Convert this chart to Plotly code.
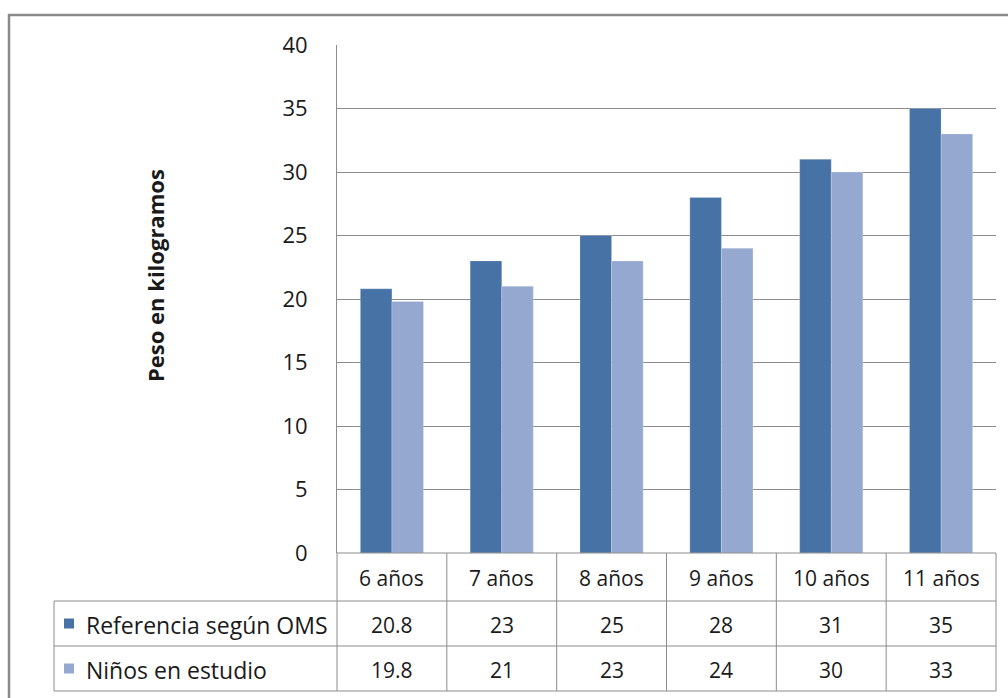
import plotly.graph_objects as go

# Weight by age: WHO reference vs. children in the study
categorias = ["6 años", "7 años", "8 años", "9 años", "10 años", "11 años"]
serie_nombres = ["Referencia según OMS", "Niños en estudio"]
referencia_oms = [20.8, 23, 25, 28, 31, 35]
ninos_estudio = [19.8, 21, 23, 24, 30, 33]
valores_y = [0, 5, 10, 15, 20, 25, 30, 35, 40]

COLORES = ["#4672A6", "#95A9D0"]
LINEA = "#8C8C8C"
FUENTE = "'Open Sans', 'Noto Sans', sans-serif"
TEXTO = "#1A1A1A"

W, H = 1008, 698
X0, X1 = 337, 996      # plot area horizontal extent (px)
Y_TOP, Y_BOT = 45, 553  # plot area vertical extent (px)
FILAS = [553, 601, 646, 691]  # table row boundaries (px)
TABLA_IZQ = 54


def px_x(x):
    return (x - X0) / (X1 - X0)


def px_y(y):
    return (Y_BOT - y) / (Y_BOT - Y_TOP)


fig = go.Figure()
for nombre, vals, color in zip(serie_nombres, [referencia_oms, ninos_estudio], COLORES):
    fig.add_trace(go.Bar(
        x=list(range(len(categorias))), y=vals, name=nombre,
        marker=dict(color=color, line=dict(color="rgba(255,255,255,0.35)", width=0.6)),
        hoverinfo="x+y",
    ))

shapes = []
annotations = []


def linea(xa, ya, xb, yb, width=1, color=LINEA):
    shapes.append(dict(type="line", xref="paper", yref="paper",
                       x0=px_x(xa), y0=px_y(ya), x1=px_x(xb), y1=px_y(yb),
                       line=dict(color=color, width=width), layer="above"))


# outer chart frame
shapes.append(dict(type="rect", xref="paper", yref="paper",
                   x0=px_x(9), y0=px_y(15), x1=px_x(1020), y1=px_y(720),
                   line=dict(color="#8A8A8A", width=2.5), layer="below"))

# data table grid
n = len(categorias)
ancho = (X1 - X0) / n
for k in range(n + 1):
    xk = X0 + k * ancho
    linea(xk, Y_BOT, xk, FILAS[-1])
linea(TABLA_IZQ, FILAS[1], TABLA_IZQ, FILAS[-1])
linea(X0, FILAS[0], X1, FILAS[0])
for yk in FILAS[1:]:
    linea(TABLA_IZQ, yk, X1, yk)

# category header row
for i, c in enumerate(categorias):
    annotations.append(dict(xref="paper", yref="paper",
                            x=px_x(X0 + (i + 0.5) * ancho), y=px_y((FILAS[0] + FILAS[1]) / 2 + 1),
                            text=c, showarrow=False, xanchor="center", yanchor="middle",
                            font=dict(size=21, color=TEXTO, family=FUENTE)))

# series rows with legend keys and values
for r, (nombre, vals, color) in enumerate(zip(serie_nombres, [referencia_oms, ninos_estudio], COLORES)):
    yc = (FILAS[r + 1] + FILAS[r + 2]) / 2 + 1
    shapes.append(dict(type="rect", xref="paper", yref="paper",
                       x0=px_x(64), x1=px_x(74), y0=px_y(yc - 6), y1=px_y(yc + 4),
                       fillcolor=color, line=dict(width=0), layer="above"))
    annotations.append(dict(xref="paper", yref="paper", x=px_x(84), y=px_y(yc),
                            text=nombre, showarrow=False, xanchor="left", yanchor="middle",
                            font=dict(size=23, color=TEXTO, family=FUENTE)))
    for i, v in enumerate(vals):
        annotations.append(dict(xref="paper", yref="paper",
                                x=px_x(X0 + (i + 0.5) * ancho), y=px_y(yc),
                                text=f"{v:g}", showarrow=False, xanchor="center", yanchor="middle",
                                font=dict(size=21, color=TEXTO, family=FUENTE)))

# vertical axis title
annotations.append(dict(xref="paper", yref="paper", x=px_x(155), y=px_y(275),
                        text="<b>Peso en kilogramos</b>", textangle=-90, showarrow=False,
                        xanchor="center", yanchor="middle",
                        font=dict(size=22, color=TEXTO, family=FUENTE)))

fig.update_layout(
    width=W, height=H,
    margin=dict(l=X0, r=W - X1, t=Y_TOP, b=H - Y_BOT),
    paper_bgcolor="white", plot_bgcolor="white",
    barmode="group", bargap=0.425, bargroupgap=0,
    showlegend=False,
    shapes=shapes, annotations=annotations,
    xaxis=dict(range=[-0.5, n - 0.5], showticklabels=False, showgrid=False,
               zeroline=False, showline=False, fixedrange=True),
    yaxis=dict(range=[0, 40], tickvals=valores_y, showgrid=True, gridcolor=LINEA,
               gridwidth=1, zeroline=False, showline=True, linecolor=LINEA, linewidth=1,
               ticks="", ticklabelstandoff=24,
               tickfont=dict(size=22, color=TEXTO, family=FUENTE), fixedrange=True),
)

fig.write_html("out.html")
